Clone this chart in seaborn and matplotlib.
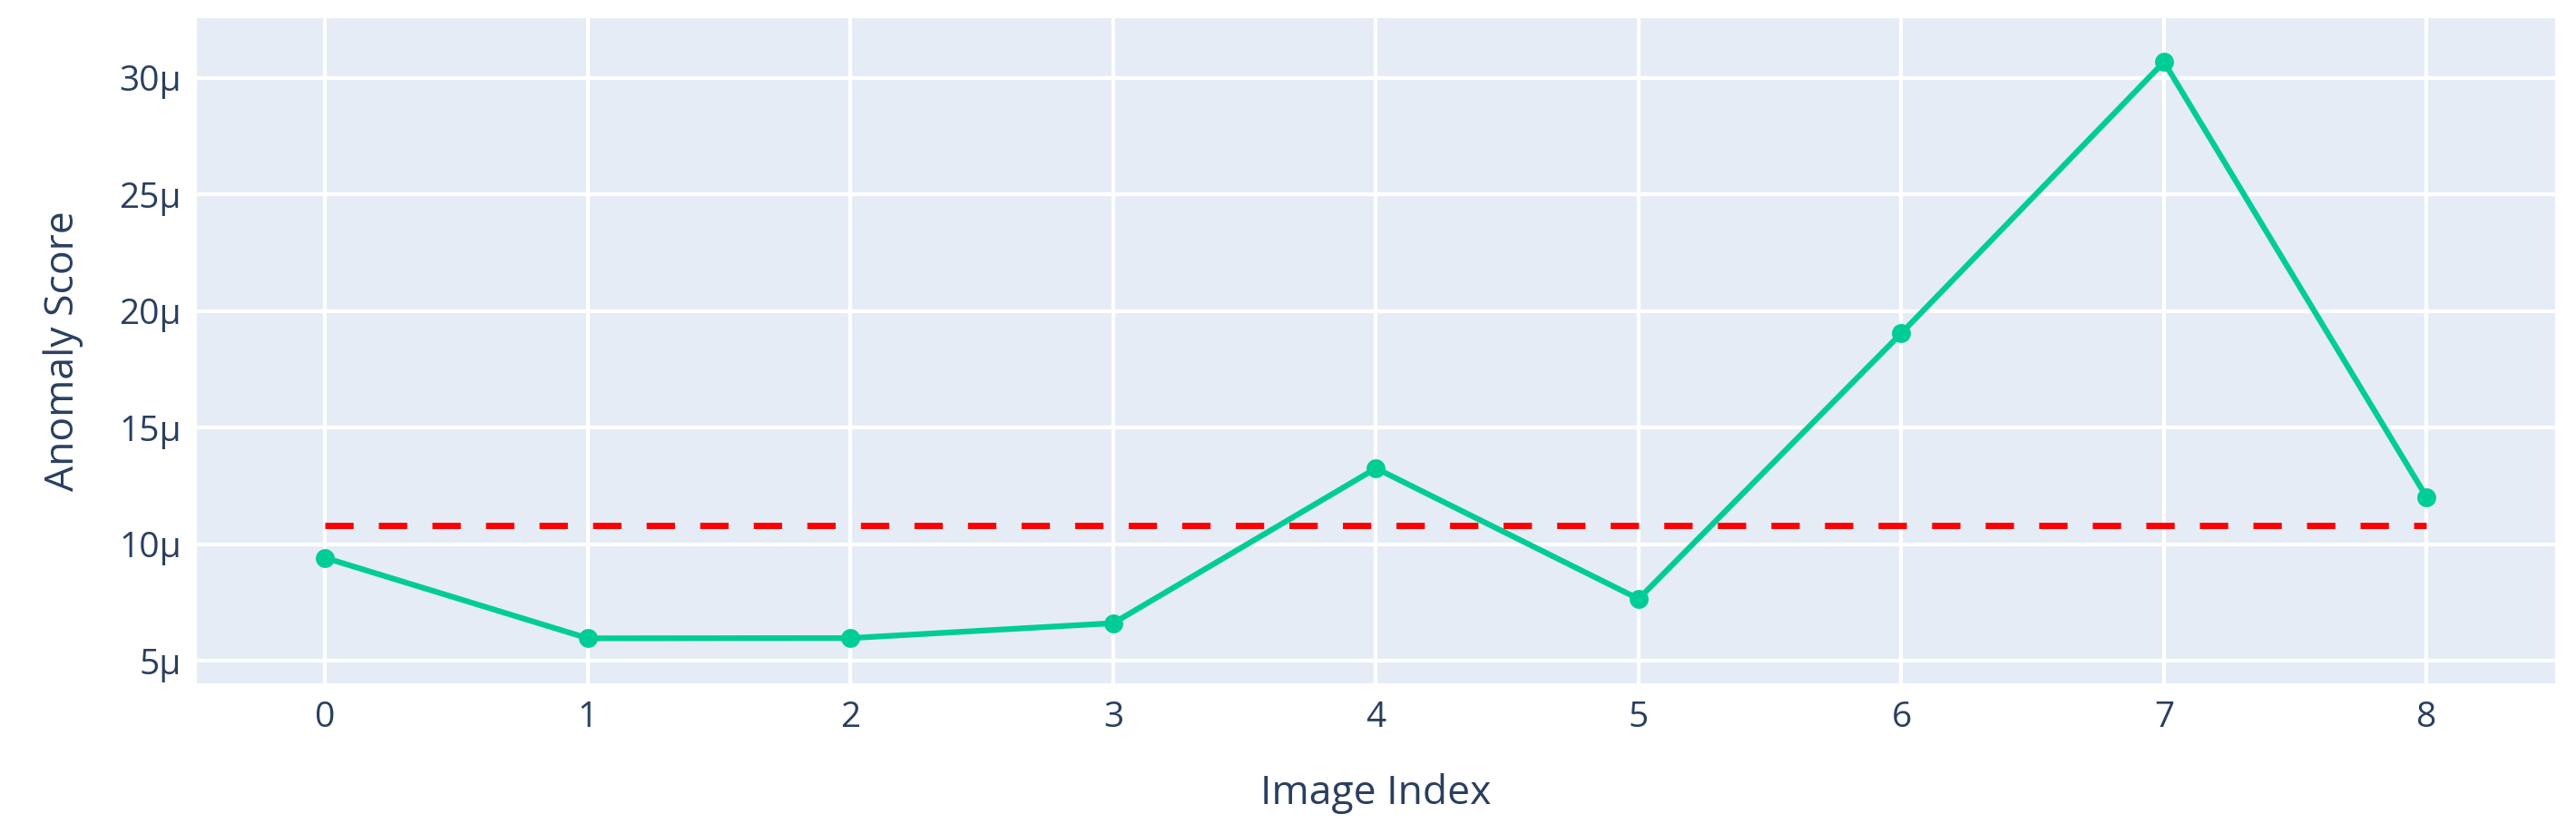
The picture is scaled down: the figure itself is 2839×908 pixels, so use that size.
import matplotlib
matplotlib.use("Agg")
import matplotlib.pyplot as plt
import seaborn as sns
import pandas as pd
from matplotlib.ticker import FuncFormatter, FixedLocator

# ---- data ----
image_index = [0, 1, 2, 3, 4, 5, 6, 7, 8]
anomaly_score = [9.42e-6, 5.97e-6, 5.98e-6, 6.62e-6, 13.26e-6, 7.66e-6, 19.05e-6, 30.68e-6, 12.02e-6]
threshold_x = [0, 8]
threshold_value = 10.82e-6
y_ticks = [5e-6, 10e-6, 15e-6, 20e-6, 25e-6, 30e-6]
x_ticks = [0, 1, 2, 3, 4, 5, 6, 7, 8]

df = pd.DataFrame({"Image Index": image_index, "Anomaly Score": anomaly_score})
thr = pd.DataFrame({"x": threshold_x, "y": [threshold_value] * len(threshold_x)})

sns.set_theme(style="darkgrid")
plt.rcParams["font.family"] = ["Open Sans", "DejaVu Sans"]

TEXT = "#2a3f5f"
fig = plt.figure(figsize=(28.39, 9.08), dpi=100)
fig.patch.set_facecolor("white")
ax = fig.add_axes([0.0763, 0.1707, 0.992 - 0.0763, 0.978 - 0.1707])
ax.set_facecolor("#E5ECF6")

sns.lineplot(data=thr, x="x", y="y", ax=ax, color="#FF0000", linewidth=5,
             dashes=False, zorder=3)
ax.lines[-1].set_dashes([4.5, 4])

sns.lineplot(data=df, x="Image Index", y="Anomaly Score", ax=ax, color="#00CC96",
             linewidth=4.5, marker="o", markersize=15, markeredgewidth=0, zorder=4)

ax.set_xlim(-0.49, 8.49)
ax.set_ylim(4.04e-6, 32.56e-6)
ax.xaxis.set_major_locator(FixedLocator(x_ticks))
ax.yaxis.set_major_locator(FixedLocator(y_ticks))
ax.yaxis.set_major_formatter(FuncFormatter(lambda v, p: f"{v*1e6:.0f}\u00b5"))

ax.grid(True, color="white", linewidth=3.0)
for s in ax.spines.values():
    s.set_visible(False)
ax.tick_params(axis="both", length=0, labelsize=28, labelcolor=TEXT)
ax.tick_params(axis="x", pad=14)
ax.tick_params(axis="y", pad=12)

ax.set_xlabel("Image Index", fontsize=32, color=TEXT, labelpad=30)
ax.set_ylabel("Anomaly Score", fontsize=32, color=TEXT, labelpad=28)

fig.savefig("out.png", dpi=100, facecolor="white")
